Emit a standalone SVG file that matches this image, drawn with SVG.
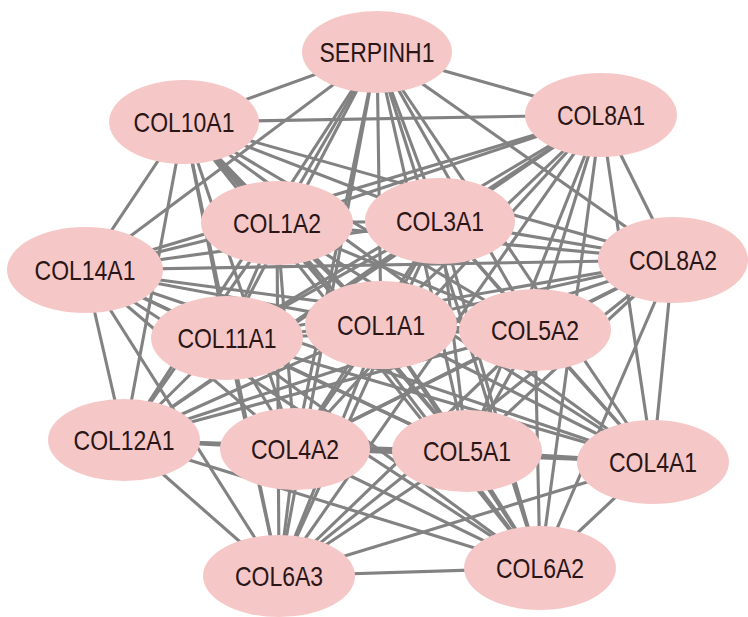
<svg xmlns="http://www.w3.org/2000/svg" width="748" height="617" viewBox="0 0 748 617">
<style>
.e{stroke:#828282;stroke-width:3.1;fill:none}
.n ellipse{fill:#f6c7c7}
.n text{font-family:"Liberation Sans",Arial,sans-serif;font-size:23px;fill:#2a1616;text-anchor:middle;dominant-baseline:central}
</style>
<rect width="748" height="617" fill="#ffffff"/>
<g id="edges">
<line class="e" x1="377" y1="52" x2="184" y2="122"/><line class="e" x1="377" y1="52" x2="601" y2="115"/><line class="e" x1="377" y1="52" x2="277" y2="223"/><line class="e" x1="377" y1="52" x2="440" y2="221"/><line class="e" x1="377" y1="52" x2="85" y2="270"/><line class="e" x1="377" y1="52" x2="673" y2="260"/><line class="e" x1="377" y1="52" x2="227" y2="338"/><line class="e" x1="377" y1="52" x2="381" y2="325"/><line class="e" x1="377" y1="52" x2="535" y2="330"/><line class="e" x1="377" y1="52" x2="124" y2="440"/><line class="e" x1="377" y1="52" x2="295" y2="449"/><line class="e" x1="377" y1="52" x2="467" y2="451"/><line class="e" x1="377" y1="52" x2="653" y2="462"/><line class="e" x1="377" y1="52" x2="279" y2="576"/><line class="e" x1="377" y1="52" x2="540" y2="568"/>
<line class="e" x1="184" y1="122" x2="601" y2="115"/><line class="e" x1="184" y1="122" x2="277" y2="223"/><line class="e" x1="184" y1="122" x2="440" y2="221"/><line class="e" x1="184" y1="122" x2="85" y2="270"/><line class="e" x1="184" y1="122" x2="673" y2="260"/><line class="e" x1="184" y1="122" x2="227" y2="338"/><line class="e" x1="184" y1="122" x2="381" y2="325"/><line class="e" x1="184" y1="122" x2="535" y2="330"/><line class="e" x1="184" y1="122" x2="124" y2="440"/><line class="e" x1="184" y1="122" x2="295" y2="449"/><line class="e" x1="184" y1="122" x2="467" y2="451"/><line class="e" x1="184" y1="122" x2="653" y2="462"/><line class="e" x1="184" y1="122" x2="279" y2="576"/><line class="e" x1="184" y1="122" x2="540" y2="568"/>
<line class="e" x1="601" y1="115" x2="277" y2="223"/><line class="e" x1="601" y1="115" x2="440" y2="221"/><line class="e" x1="601" y1="115" x2="85" y2="270"/><line class="e" x1="601" y1="115" x2="673" y2="260"/><line class="e" x1="601" y1="115" x2="227" y2="338"/><line class="e" x1="601" y1="115" x2="381" y2="325"/><line class="e" x1="601" y1="115" x2="535" y2="330"/><line class="e" x1="601" y1="115" x2="124" y2="440"/><line class="e" x1="601" y1="115" x2="295" y2="449"/><line class="e" x1="601" y1="115" x2="467" y2="451"/><line class="e" x1="601" y1="115" x2="653" y2="462"/><line class="e" x1="601" y1="115" x2="279" y2="576"/><line class="e" x1="601" y1="115" x2="540" y2="568"/>
<line class="e" x1="277" y1="223" x2="440" y2="221"/><line class="e" x1="277" y1="223" x2="85" y2="270"/><line class="e" x1="277" y1="223" x2="673" y2="260"/><line class="e" x1="277" y1="223" x2="227" y2="338"/><line class="e" x1="277" y1="223" x2="381" y2="325"/><line class="e" x1="277" y1="223" x2="535" y2="330"/><line class="e" x1="277" y1="223" x2="124" y2="440"/><line class="e" x1="277" y1="223" x2="295" y2="449"/><line class="e" x1="277" y1="223" x2="467" y2="451"/><line class="e" x1="277" y1="223" x2="653" y2="462"/><line class="e" x1="277" y1="223" x2="279" y2="576"/><line class="e" x1="277" y1="223" x2="540" y2="568"/>
<line class="e" x1="440" y1="221" x2="85" y2="270"/><line class="e" x1="440" y1="221" x2="673" y2="260"/><line class="e" x1="440" y1="221" x2="227" y2="338"/><line class="e" x1="440" y1="221" x2="381" y2="325"/><line class="e" x1="440" y1="221" x2="535" y2="330"/><line class="e" x1="440" y1="221" x2="124" y2="440"/><line class="e" x1="440" y1="221" x2="295" y2="449"/><line class="e" x1="440" y1="221" x2="467" y2="451"/><line class="e" x1="440" y1="221" x2="653" y2="462"/><line class="e" x1="440" y1="221" x2="279" y2="576"/><line class="e" x1="440" y1="221" x2="540" y2="568"/>
<line class="e" x1="85" y1="270" x2="673" y2="260"/><line class="e" x1="85" y1="270" x2="227" y2="338"/><line class="e" x1="85" y1="270" x2="381" y2="325"/><line class="e" x1="85" y1="270" x2="535" y2="330"/><line class="e" x1="85" y1="270" x2="124" y2="440"/><line class="e" x1="85" y1="270" x2="295" y2="449"/><line class="e" x1="85" y1="270" x2="467" y2="451"/><line class="e" x1="85" y1="270" x2="653" y2="462"/><line class="e" x1="85" y1="270" x2="279" y2="576"/><line class="e" x1="85" y1="270" x2="540" y2="568"/>
<line class="e" x1="673" y1="260" x2="227" y2="338"/><line class="e" x1="673" y1="260" x2="381" y2="325"/><line class="e" x1="673" y1="260" x2="535" y2="330"/><line class="e" x1="673" y1="260" x2="124" y2="440"/><line class="e" x1="673" y1="260" x2="295" y2="449"/><line class="e" x1="673" y1="260" x2="467" y2="451"/><line class="e" x1="673" y1="260" x2="653" y2="462"/><line class="e" x1="673" y1="260" x2="279" y2="576"/><line class="e" x1="673" y1="260" x2="540" y2="568"/>
<line class="e" x1="227" y1="338" x2="381" y2="325"/><line class="e" x1="227" y1="338" x2="535" y2="330"/><line class="e" x1="227" y1="338" x2="124" y2="440"/><line class="e" x1="227" y1="338" x2="295" y2="449"/><line class="e" x1="227" y1="338" x2="467" y2="451"/><line class="e" x1="227" y1="338" x2="653" y2="462"/><line class="e" x1="227" y1="338" x2="279" y2="576"/><line class="e" x1="227" y1="338" x2="540" y2="568"/>
<line class="e" x1="381" y1="325" x2="535" y2="330"/><line class="e" x1="381" y1="325" x2="124" y2="440"/><line class="e" x1="381" y1="325" x2="295" y2="449"/><line class="e" x1="381" y1="325" x2="467" y2="451"/><line class="e" x1="381" y1="325" x2="653" y2="462"/><line class="e" x1="381" y1="325" x2="279" y2="576"/><line class="e" x1="381" y1="325" x2="540" y2="568"/>
<line class="e" x1="535" y1="330" x2="124" y2="440"/><line class="e" x1="535" y1="330" x2="295" y2="449"/><line class="e" x1="535" y1="330" x2="467" y2="451"/><line class="e" x1="535" y1="330" x2="653" y2="462"/><line class="e" x1="535" y1="330" x2="279" y2="576"/><line class="e" x1="535" y1="330" x2="540" y2="568"/>
<line class="e" x1="124" y1="440" x2="295" y2="449"/><line class="e" x1="124" y1="440" x2="467" y2="451"/><line class="e" x1="124" y1="440" x2="653" y2="462"/><line class="e" x1="124" y1="440" x2="279" y2="576"/><line class="e" x1="124" y1="440" x2="540" y2="568"/>
<line class="e" x1="295" y1="449" x2="467" y2="451"/><line class="e" x1="295" y1="449" x2="653" y2="462"/><line class="e" x1="295" y1="449" x2="279" y2="576"/><line class="e" x1="295" y1="449" x2="540" y2="568"/>
<line class="e" x1="467" y1="451" x2="653" y2="462"/><line class="e" x1="467" y1="451" x2="279" y2="576"/><line class="e" x1="467" y1="451" x2="540" y2="568"/>
<line class="e" x1="653" y1="462" x2="279" y2="576"/><line class="e" x1="653" y1="462" x2="540" y2="568"/>
<line class="e" x1="279" y1="576" x2="540" y2="568"/>
</g>
<g id="SERPINH1" class="n"><ellipse cx="377" cy="52" rx="75" ry="41"/><text transform="translate(377 52) scale(1 1.18)">SERPINH1</text></g>
<g id="COL10A1" class="n"><ellipse cx="184" cy="122" rx="75" ry="42"/><text transform="translate(184 122) scale(1 1.18)">COL10A1</text></g>
<g id="COL8A1" class="n"><ellipse cx="601" cy="115" rx="76" ry="42"/><text transform="translate(601 115) scale(1 1.18)">COL8A1</text></g>
<g id="COL1A2" class="n"><ellipse cx="277" cy="223" rx="76" ry="42"/><text transform="translate(277 223) scale(1 1.18)">COL1A2</text></g>
<g id="COL3A1" class="n"><ellipse cx="440" cy="221" rx="75" ry="43"/><text transform="translate(440 221) scale(1 1.18)">COL3A1</text></g>
<g id="COL14A1" class="n"><ellipse cx="85" cy="270" rx="78" ry="43"/><text transform="translate(85 270) scale(1 1.18)">COL14A1</text></g>
<g id="COL8A2" class="n"><ellipse cx="673" cy="260" rx="75" ry="43"/><text transform="translate(673 260) scale(1 1.18)">COL8A2</text></g>
<g id="COL11A1" class="n"><ellipse cx="227" cy="338" rx="76" ry="42"/><text transform="translate(227 338) scale(1 1.18)">COL11A1</text></g>
<g id="COL1A1" class="n"><ellipse cx="381" cy="325" rx="76" ry="44"/><text transform="translate(381 325) scale(1 1.18)">COL1A1</text></g>
<g id="COL5A2" class="n"><ellipse cx="535" cy="330" rx="76" ry="41"/><text transform="translate(535 330) scale(1 1.18)">COL5A2</text></g>
<g id="COL12A1" class="n"><ellipse cx="124" cy="440" rx="76" ry="41"/><text transform="translate(124 440) scale(1 1.18)">COL12A1</text></g>
<g id="COL4A2" class="n"><ellipse cx="295" cy="449" rx="75" ry="41"/><text transform="translate(295 449) scale(1 1.18)">COL4A2</text></g>
<g id="COL5A1" class="n"><ellipse cx="467" cy="451" rx="75" ry="41"/><text transform="translate(467 451) scale(1 1.18)">COL5A1</text></g>
<g id="COL4A1" class="n"><ellipse cx="653" cy="462" rx="76" ry="42"/><text transform="translate(653 462) scale(1 1.18)">COL4A1</text></g>
<g id="COL6A3" class="n"><ellipse cx="279" cy="576" rx="76" ry="41"/><text transform="translate(279 576) scale(1 1.18)">COL6A3</text></g>
<g id="COL6A2" class="n"><ellipse cx="540" cy="568" rx="76" ry="42"/><text transform="translate(540 568) scale(1 1.18)">COL6A2</text></g>
</svg>
